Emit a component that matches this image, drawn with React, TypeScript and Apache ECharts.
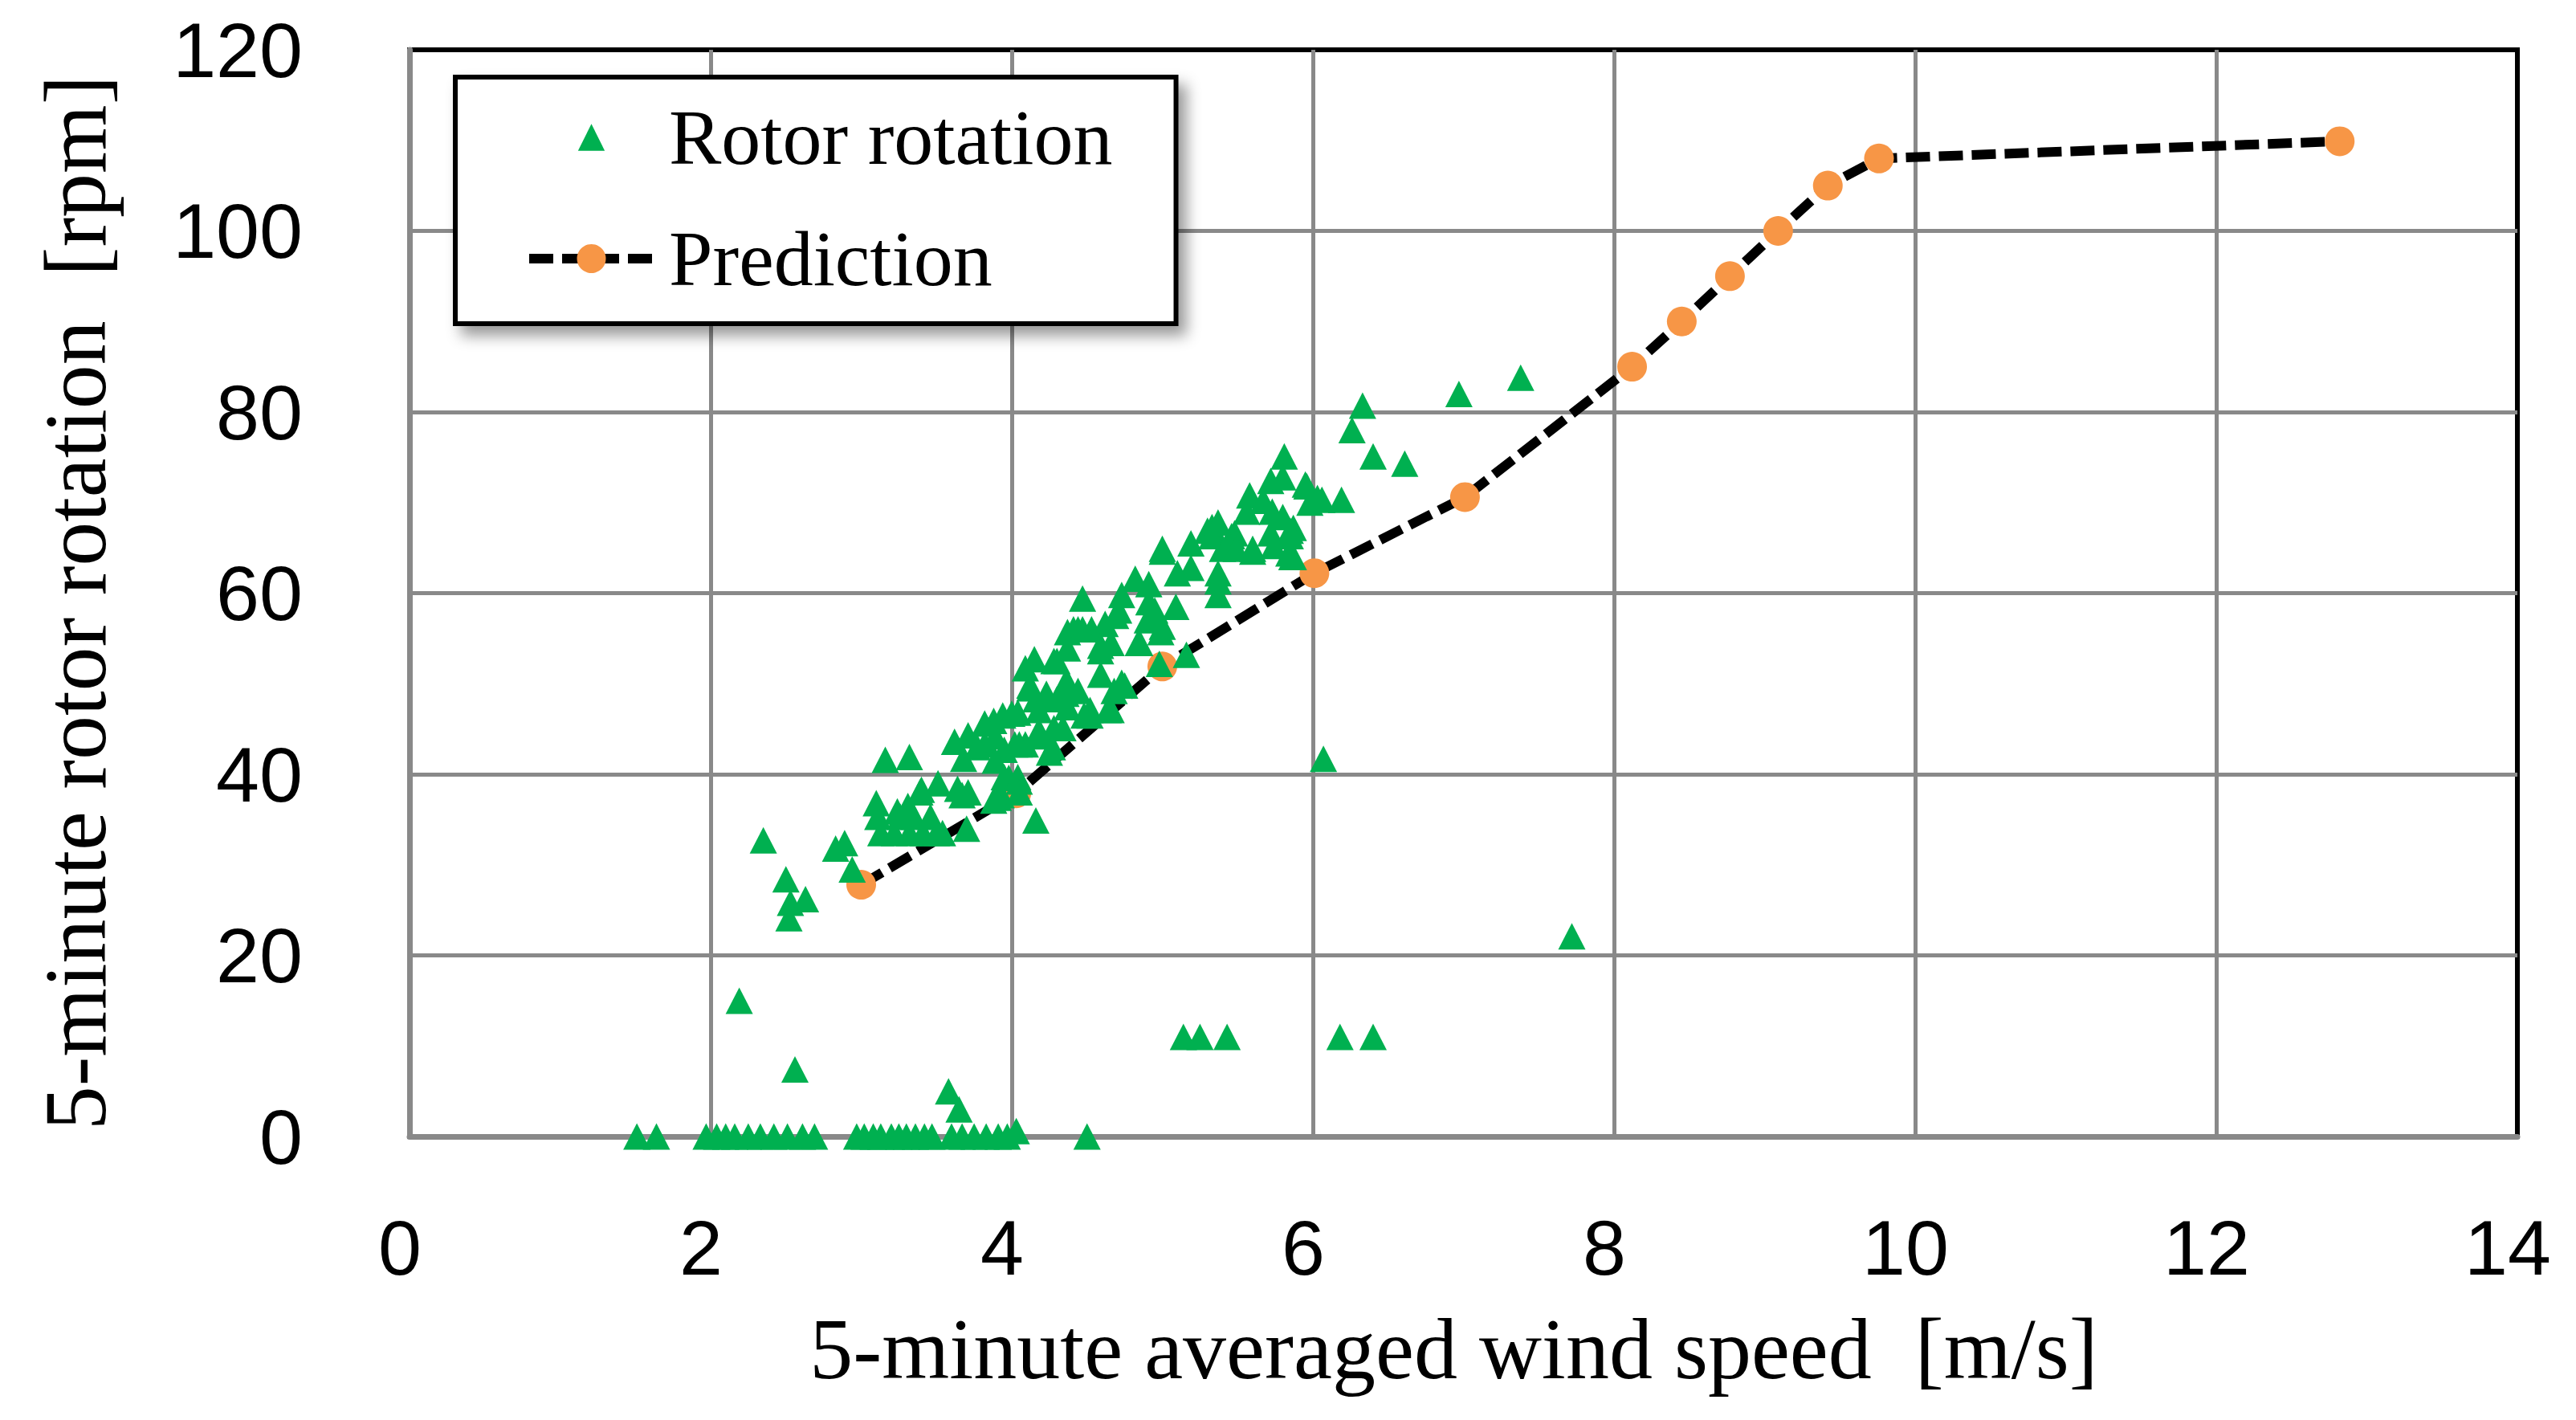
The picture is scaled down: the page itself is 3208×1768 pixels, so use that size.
import React, { useEffect, useRef } from "react";
import * as echarts from "echarts";

// Axis ranges / ticks
const xMin = 0;
const xMax = 14;
const xInterval = 2;
const yMin = 0;
const yMax = 120;
const yInterval = 20;

const xAxisTitle = "5-minute averaged wind speed  [m/s]";
const yAxisTitle = "5-minute rotor rotation  [rpm]";
const seriesNames = ["Rotor rotation", "Prediction"];

// Measured rotor rotation (5-minute averages)
const rotorZeroRow: [number, number][] = [
  [1.51, 0], [1.64, 0], [1.97, 0], [2.04, 0], [2.1, 0], [2.16, 0], [2.25, 0], [2.33, 0],
  [2.42, 0], [2.51, 0], [2.61, 0], [2.69, 0], [2.97, 0], [3.02, 0], [3.08, 0], [3.13, 0],
  [3.2, 0], [3.25, 0], [3.3, 0], [3.36, 0], [3.42, 0], [3.47, 0], [3.6, 0], [3.67, 0],
  [3.75, 0], [3.83, 0], [3.91, 0], [3.97, 0], [4.03, 0.6], [4.5, 0],
];

const rotorOutliers: [number, number][] = [
  [2.19, 15], [2.56, 7.4], [3.58, 5], [3.65, 3], [5.14, 11], [5.25, 11], [5.43, 11],
  [6.18, 11], [6.4, 11], [7.72, 22.1], [6.07, 41.7],
];

const rotorLowCluster: [number, number][] = [
  [2.35, 32.7], [2.5, 28.4], [2.53, 25.8], [2.63, 26.2], [2.52, 24.1], [2.83, 31.8],
  [2.89, 32.4], [2.94, 29.5], [3.16, 41.6], [3.32, 41.9], [3.1, 36.8],
  [3.13, 33.5], [3.22, 33.5], [3.32, 33.5], [3.41, 33.5], [3.5, 33.5], [3.54, 33.5],
  [3.11, 35.3], [3.26, 35.3], [3.35, 35.3], [3.46, 35.3],
  [3.7, 34.0], [3.4, 38.3], [3.51, 39.0], [3.64, 38.4], [3.67, 37.7], [3.24, 35.9],
  [3.31, 36.5], [3.88, 37.1], [3.98, 39.6], [4.16, 34.9], [3.71, 44.3], [3.62, 43.6],
  [3.68, 41.7], [3.39, 38.0], [3.71, 38.0], [3.91, 37.4], [4.05, 39.2], [3.93, 37.7],
  [3.95, 39.7], [4.04, 39.7], [4.05, 38.0],
];

const rotorMidCluster: [number, number][] = [
  [3.88, 45.9], [3.94, 46.5], [4.04, 46.8], [3.82, 43.3], [3.95, 42.7], [4.09, 43.3],
  [4.18, 44.8], [4.27, 43.0], [4.28, 45.1], [4.37, 47.4], [4.16, 48.3], [4.23, 48.9],
  [4.36, 48.9], [4.52, 46.5], [4.64, 47.1], [4.68, 49.2], [3.82, 45.6], [3.89, 44.2],
  [3.77, 43.0], [3.89, 41.5], [4.02, 43.3], [4.18, 44.2], [4.34, 45.1], [4.25, 42.4],
  [4.09, 51.7], [4.15, 52.7], [4.12, 49.8], [4.28, 52.5], [4.36, 50.2], [4.37, 55.7],
  [4.44, 56.0], [4.53, 56.0], [4.62, 56.6], [4.69, 57.5], [4.85, 54.5], [4.9, 57.0],
  [4.59, 54.2], [4.59, 51.0], [4.73, 50.1], [4.52, 47.1], [4.44, 49.2], [4.3, 48.3],
  [4.98, 52.2], [5.16, 53.2], [4.84, 54.5], [4.47, 59.4], [4.66, 47.1], [4.41, 56.0],
  [4.47, 56.0], [4.66, 54.5], [4.37, 53.9], [4.3, 52.5], [4.59, 53.6], [4.37, 50.1],
  [4.12, 49.5], [4.34, 48.3], [4.18, 47.1], [4.0, 46.7], [4.48, 46.5], [4.05, 43.3],
  [4.75, 49.8], [4.99, 55.7], [4.96, 57.2],
];

const rotorHighCluster: [number, number][] = [
  [5.37, 59.8], [5.09, 58.5], [5.0, 56.3], [4.95, 58.1], [5.0, 64.9], [5.19, 65.5],
  [5.19, 62.8], [5.37, 62.2], [5.4, 64.9], [5.33, 67.3], [5.48, 66.6], [5.6, 64.6],
  [5.72, 66.6], [5.85, 66.9], [5.87, 64.0], [4.82, 61.6], [4.73, 59.8], [4.91, 61.0],
  [4.91, 59.0], [4.71, 58.1], [5.0, 64.6], [5.33, 66.3], [5.37, 61.3], [5.1, 62.2],
  [5.3, 66.9], [5.46, 66.3], [5.49, 64.9], [5.37, 67.8], [5.6, 64.9], [5.74, 65.2],
  [5.86, 64.0], [5.84, 64.4], [5.85, 66.3], [5.87, 67.2], [5.58, 70.8], [5.56, 69.0],
  [5.73, 69.0], [5.8, 68.4], [5.67, 70.2], [5.98, 70.0], [5.81, 75.1], [5.72, 72.4],
  [5.8, 72.8], [5.96, 71.8], [5.95, 72.0], [6.06, 70.3], [6.03, 70.5], [6.19, 70.3],
  [6.33, 80.7], [6.26, 78.0], [6.4, 75.1], [6.61, 74.3], [6.97, 82.0], [7.38, 83.8],
];

const rotorData: [number, number][] = [
  ...rotorZeroRow,
  ...rotorOutliers,
  ...rotorLowCluster,
  ...rotorMidCluster,
  ...rotorHighCluster,
];

// Predicted rotor rotation
const predictionData: [number, number][] = [
  [3.0, 27.8], [4.03, 37.9], [5.0, 51.9], [6.01, 62.2], [7.01, 70.6], [8.12, 85.0],
  [8.45, 90.0], [8.77, 95.0], [9.09, 100.0], [9.42, 105.0], [9.76, 108.0], [12.82, 109.9],
];

const GREEN = "#00B050";
const ORANGE = "#F79646";
const GRID_GRAY = "#898989";
const SERIF = "'Liberation Serif', 'Times New Roman', serif";
const SANS = "'Liberation Sans', Arial, sans-serif";

export default function App() {
  const ref = useRef<HTMLDivElement | null>(null);

  useEffect(() => {
    document.body.style.margin = "0";
    if (!ref.current) return;
    const chart = echarts.init(ref.current, undefined, { renderer: "svg" });
    chart.setOption({
      animation: false,
      backgroundColor: "#ffffff",
      grid: {
        left: 510,
        right: 73,
        top: 62,
        bottom: 353,
        show: true,
        borderColor: "#000000",
        borderWidth: 6,
        backgroundColor: "transparent",
        containLabel: false,
        outerBoundsMode: "none",
      },
      legend: {
        orient: "vertical",
        left: 567,
        top: 96,
        data: [
          { name: seriesNames[0], icon: "path://M0,0M100,100M50,13L87,87L13,87Z" },
          { name: seriesNames[1] },
        ],
        itemWidth: 155,
        itemHeight: 45,
        itemGap: 53,
        padding: [26, 79, 32, 86],
        backgroundColor: "#ffffff",
        borderColor: "#000000",
        borderWidth: 6,
        borderRadius: 0,
        shadowColor: "rgba(0,0,0,0.4)",
        shadowBlur: 18,
        shadowOffsetX: 10,
        shadowOffsetY: 12,
        selectedMode: false,
        lineStyle: { width: 12, type: [30, 11], color: "#000000" },
        textStyle: {
          fontFamily: SERIF,
          fontSize: 98,
          lineHeight: 98,
          color: "#000000",
          padding: [0, 0, 0, 14],
        },
      },
      xAxis: {
        type: "value",
        min: xMin,
        max: xMax,
        interval: xInterval,
        name: xAxisTitle,
        nameLocation: "middle",
        nameGap: 210,
        nameTextStyle: {
          fontFamily: SERIF,
          fontSize: 108,
          lineHeight: 108,
          color: "#000000",
          padding: [0, 24, 0, 0],
        },
        axisLine: { show: true, onZero: false, lineStyle: { color: GRID_GRAY, width: 7 } },
        axisTick: { show: false },
        axisLabel: {
          fontFamily: SANS,
          fontSize: 97,
          lineHeight: 97,
          color: "#000000",
          margin: 90,
          padding: [0, 24, 0, 0],
        },
        splitLine: {
          show: true,
          showMaxLine: false,
          lineStyle: { color: GRID_GRAY, width: 5 },
        },
      },
      yAxis: {
        type: "value",
        min: yMin,
        max: yMax,
        interval: yInterval,
        name: yAxisTitle,
        nameLocation: "middle",
        nameRotate: 90,
        nameGap: 361,
        nameTextStyle: {
          fontFamily: SERIF,
          fontSize: 110,
          lineHeight: 110,
          color: "#000000",
          padding: [0, 24, 0, 0],
        },
        axisLine: { show: true, onZero: false, lineStyle: { color: GRID_GRAY, width: 7 } },
        axisTick: { show: false },
        axisLabel: {
          fontFamily: SANS,
          fontSize: 97,
          lineHeight: 90,
          color: "#000000",
          margin: 133,
        },
        splitLine: {
          show: true,
          showMaxLine: false,
          lineStyle: { color: GRID_GRAY, width: 5 },
        },
      },
      series: [
        {
          name: seriesNames[1],
          type: "line",
          data: predictionData,
          symbol: "circle",
          symbolSize: 37,
          showAllSymbol: true,
          itemStyle: { color: ORANGE },
          lineStyle: { color: "#000000", width: 12, type: [30, 11], cap: "butt" },
          z: 2,
        },
        {
          name: seriesNames[0],
          type: "scatter",
          data: rotorData,
          symbol: "triangle",
          symbolSize: [34, 33],
          itemStyle: { color: GREEN, opacity: 1 },
          z: 3,
        },
      ],
    });
    return () => {
      chart.dispose();
    };
  }, []);

  return <div ref={ref} style={{ width: 3208, height: 1768 }} />;
}
